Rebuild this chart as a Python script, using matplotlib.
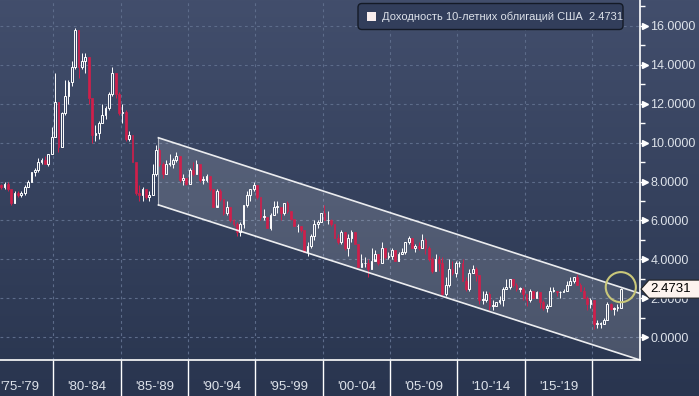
import numpy as np
import pandas as pd
import matplotlib.pyplot as plt
from matplotlib.colors import LinearSegmentedColormap
from matplotlib.patches import FancyBboxPatch, Rectangle, Polygon
from matplotlib.transforms import IdentityTransform

plt.rcParams['font.family'] = ['Liberation Sans', 'DejaVu Sans']

# quarterly candles, US 10y yield, 1976Q1 .. 2022Q1
first_open = 7.8
closes = [7.7, 7.9, 7.6, 6.9,  7.4, 7.3, 7.4, 7.7,  8.0, 8.5, 8.6, 9.0,  9.1, 8.9, 9.4, 10.3,
          12.1, 9.8, 11.5, 12.4,  13.1, 13.9, 15.8, 13.9,  14.2, 14.4, 12.3, 10.4,  10.5, 11.0, 11.4, 11.8,
          12.5, 13.6, 12.5, 11.5,  11.6, 10.2, 10.4, 9.0,  7.4, 7.3, 7.6, 7.2,  7.3, 8.4, 9.6, 8.9,
          8.4, 8.9, 8.9, 9.1,  9.3, 8.1, 8.2, 7.9,  8.6, 8.4, 8.9, 8.1,  8.1, 8.3, 7.6, 6.7,
          7.5, 7.1, 6.4, 6.7,  6.0, 5.8, 5.4, 5.8,  6.8, 7.3, 7.6, 7.8,  7.2, 6.2, 6.2, 5.6,
          6.3, 6.7, 6.7, 6.4,  6.9, 6.5, 6.1, 5.7,  5.7, 5.5, 4.4, 4.7,  5.2, 5.8, 5.9, 6.4,
          6.0, 6.0, 5.8, 5.1,  4.9, 5.4, 4.6, 5.1,  5.4, 4.8, 3.6, 3.8,  3.8, 3.5, 3.9, 4.3,
          3.8, 4.6, 4.1, 4.2,  4.5, 3.9, 4.3, 4.4,  4.9, 5.1, 4.6, 4.7,  4.6, 5.0, 4.6, 4.0,
          3.4, 4.0, 3.8, 2.2,  2.7, 3.5, 3.3, 3.8,  3.8, 2.9, 2.5, 3.3,  3.5, 3.2, 1.9, 1.9,
          2.2, 1.6, 1.6, 1.8,  1.9, 2.5, 2.6, 3.0,  2.7, 2.5, 2.5, 2.2,  1.9, 2.4, 2.0, 2.3,
          1.8, 1.5, 1.6, 2.4,  2.4, 2.3, 2.3, 2.4,  2.7, 2.9, 3.1, 2.7,  2.4, 2.0, 1.7, 1.9,
          0.7, 0.7, 0.7, 0.9,  1.7, 1.45, 1.5, 1.5,  2.4731]
highs = [7.9, 8.0, 8.0, 7.6,  7.5, 7.5, 7.5, 7.8,  8.1, 8.5, 8.7, 9.2,  9.2, 9.3, 9.4, 10.8,
         13.6, 12.1, 11.6, 13.2,  13.2, 14.2, 15.9, 15.8,  14.6, 14.6, 14.4, 12.3,  10.9, 11.1, 12.0, 11.9,
         12.6, 13.9, 13.6, 12.6,  12.0, 11.7, 10.6, 10.4,  9.0, 7.8, 7.7, 7.6,  7.5, 8.9, 9.9, 9.7,
         9.0, 9.1, 9.4, 9.2,  9.5, 9.3, 8.4, 8.2,  8.7, 9.0, 9.1, 8.9,  8.3, 8.4, 8.3, 7.6,
         7.6, 7.6, 7.1, 7.0,  6.7, 6.1, 5.9, 5.9,  6.8, 7.5, 7.6, 8.0,  7.8, 7.2, 6.6, 6.2,
         6.4, 7.0, 7.0, 6.7,  6.9, 7.0, 6.5, 6.1,  5.8, 5.7, 5.5, 4.9,  5.3, 6.0, 6.0, 6.4,
         6.8, 6.5, 6.1, 5.8,  5.3, 5.5, 5.3, 5.3,  5.5, 5.4, 4.8, 4.3,  4.1, 4.0, 4.6, 4.5,
         4.2, 4.9, 4.6, 4.4,  4.6, 4.5, 4.4, 4.6,  4.9, 5.2, 5.1, 4.8,  4.9, 5.3, 5.1, 4.7,
         4.1, 4.3, 4.2, 4.1,  3.1, 4.0, 3.9, 3.9,  3.9, 4.0, 3.1, 3.5,  3.7, 3.6, 3.2, 2.4,
         2.4, 2.3, 1.9, 1.8,  2.1, 2.6, 3.0, 3.0,  3.0, 2.8, 2.6, 2.6,  2.2, 2.5, 2.4, 2.4,
         2.3, 1.9, 1.7, 2.6,  2.6, 2.4, 2.4, 2.5,  2.9, 3.1, 3.1, 3.25,  2.8, 2.6, 2.1, 2.0,
         1.9, 0.9, 0.8, 1.0,  1.8, 1.75, 1.55, 1.7,  2.55]
lows = [7.6, 7.6, 7.5, 6.8,  7.1, 7.2, 7.2, 7.3,  7.7, 8.0, 8.3, 8.5,  8.9, 8.9, 8.8, 9.4,
        10.3, 9.5, 9.8, 11.4,  12.0, 12.9, 13.8, 13.3,  13.8, 13.6, 12.0, 10.0,  10.1, 10.2, 11.0, 11.2,
        11.7, 12.4, 12.3, 11.4,  11.0, 10.1, 10.1, 9.0,  7.3, 7.0, 7.0, 7.1,  7.0, 7.3, 8.3, 8.8,
        8.2, 8.4, 8.8, 8.7,  9.0, 8.0, 7.8, 7.8,  7.9, 8.3, 8.4, 8.0,  7.9, 8.0, 7.5, 6.7,
        6.8, 7.0, 6.3, 6.3,  5.9, 5.7, 5.2, 5.2,  5.6, 6.7, 7.0, 7.5,  7.1, 6.0, 6.0, 5.6,
        5.5, 6.3, 6.4, 6.0,  6.3, 6.4, 6.0, 5.7,  5.4, 5.4, 4.4, 4.2,  4.6, 5.0, 5.6, 5.9,
        6.0, 5.8, 5.7, 5.1,  4.8, 4.8, 4.5, 4.2,  4.9, 4.8, 3.6, 3.6,  3.6, 3.1, 3.5, 4.0,
        3.7, 3.8, 4.0, 4.0,  4.0, 3.9, 4.0, 4.3,  4.3, 4.8, 4.6, 4.4,  4.5, 4.6, 4.3, 3.9,
        3.3, 3.4, 3.4, 2.1,  2.1, 2.6, 3.2, 3.1,  3.6, 2.9, 2.4, 2.4,  3.3, 2.9, 1.7, 1.7,
        1.8, 1.4, 1.4, 1.6,  1.7, 1.6, 2.5, 2.5,  2.6, 2.4, 2.3, 1.9,  1.6, 1.8, 2.0, 2.0,
        1.5, 1.4, 1.3, 1.6,  2.3, 2.1, 2.0, 2.3,  2.4, 2.7, 2.8, 2.7,  2.4, 2.0, 1.4, 1.5,
        0.4, 0.5, 0.5, 0.7,  0.9, 1.4, 1.15, 1.35,  1.5]

period_edges = [1980, 1985, 1990, 1995, 2000, 2005, 2010, 2015, 2020]
period_labels = ["'75-'79", "'80-'84", "'85-'89", "'90-'94", "'95-'99",
                 "'00-'04", "'05-'09", "'10-'14", "'15-'19"]

# trend channel
channel_years = [1987.8, 2023.55]
channel_upper = [10.25, 2.25]
channel_lower = [6.8, -1.17]

legend_text = 'Доходность 10-летних облигаций США  2.4731'
last_label = '2.4731'

red = '#d01f4b'
txt = '#dde2ea'

quarters = pd.period_range('1976Q1', periods=len(closes), freq='Q')
x = np.array([q.year + (q.quarter - 0.5) / 4 for q in quarters])
c = np.array(closes)
o = np.array([first_open] + closes[:-1])
h = np.array(highs)
l = np.array(lows)
up = c >= o
top = np.maximum(o, c)
bot = np.minimum(o, c)

fig = plt.figure(figsize=(6.99, 3.96), dpi=100)

# background gradient
bg = fig.add_axes([0, 0, 1, 1], zorder=-10)
cmap = LinearSegmentedColormap.from_list('bg', ['#29354f', '#424e6c'])
bg.imshow(np.linspace(0, 1, 256).reshape(-1, 1), aspect='auto', cmap=cmap,
          origin='lower', extent=[0, 1, 0, 1])
bg.axis('off')

ax = fig.add_axes([0, 36 / 396, 640 / 699, 360 / 396])
ax.patch.set_alpha(0)
ax.set_xlim(1976.04, 2023.55)
ax.set_ylim(-1.17, 17.33)

# channel
ax.fill_between(channel_years, channel_lower, channel_upper, color='white', alpha=0.15, lw=0, zorder=1)
ax.plot(channel_years, channel_upper, color='white', lw=1.2, alpha=0.9, zorder=4)
ax.plot(channel_years, channel_lower, color='white', lw=1.2, alpha=0.9, zorder=4)
ax.plot([channel_years[0]] * 2, [channel_lower[0], channel_upper[0]], color='white', lw=0.8, alpha=0.6, zorder=4)

# candles
w = 0.13
hgt = np.maximum(top - bot, 0.04)
ax.bar(x[up], hgt[up], bottom=bot[up], width=w, facecolor='none', edgecolor='white', lw=0.7, zorder=3)
ax.bar(x[~up], hgt[~up], bottom=bot[~up], width=w, color=red, edgecolor=red, lw=0.5, zorder=3)
cols = np.where(up, 'white', red)
ax.vlines(x, top, h, colors=cols, lw=0.7, zorder=3)
ax.vlines(x, l, bot, colors=cols, lw=0.7, zorder=3)

# last value circle
ax.scatter([x[-1]], [c[-1] + 0.1], s=470, facecolors='none', edgecolors='#c9c77a', lw=1.5, zorder=6, clip_on=False)

# axes styling
for s in ['left', 'top']:
    ax.spines[s].set_visible(False)
for s in ['right', 'bottom']:
    ax.spines[s].set_color('white')
    ax.spines[s].set_linewidth(1.2)

ax.yaxis.tick_right()
ax.set_yticks(range(0, 17, 2))
ax.set_yticks(range(1, 18, 2), minor=True)
ax.set_yticklabels(['%.4f' % v for v in range(0, 17, 2)])
ax.tick_params(axis='y', which='both', length=3.6, width=1, color='white')
ax.tick_params(axis='y', which='major', labelcolor=txt, labelsize=9, pad=3.8)
ax.plot([1.0085] * 9, range(0, 17, 2), ls='none', marker='>', ms=4.5, color='white',
        transform=ax.get_yaxis_transform(), clip_on=False)

ax.set_xticks(period_edges)
ax.set_xticks([e - 2.5 for e in period_edges], minor=True)
ax.set_xticklabels([''] * len(period_edges))
ax.set_xticklabels(period_labels, minor=True)
ax.tick_params(axis='x', which='major', length=26, width=1, color='white', direction='out')
ax.tick_params(axis='x', which='minor', length=0, labelcolor=txt, labelsize=9.5, pad=15)

ax.grid(which='major', color='#5d6c8a', ls=(0, (2.5, 3)), lw=0.8)
ax.set_axisbelow(True)

# legend box
fig.add_artist(FancyBboxPatch((358, 396 - 29.5), 265, 26, boxstyle='round,pad=0,rounding_size=4',
                              facecolor='#323e5b', edgecolor='#141a26', lw=1, transform=IdentityTransform()))
fig.add_artist(Rectangle((367, 396 - 21), 9, 9, facecolor='#f8eeee', edgecolor='none',
                         transform=IdentityTransform()))
fig.text(381.5 / 699, 1 - 16.5 / 396, legend_text, color=txt, fontsize=8, va='center', ha='left')

# last price tag
yp = ax.transData.transform((0, c[-1]))[1]
fig.add_artist(Polygon([(641, yp), (649, yp + 9), (702, yp + 9), (702, yp - 9), (649, yp - 9)],
                       closed=True, facecolor='#fdf3ee', edgecolor='#222222', lw=0.8,
                       transform=IdentityTransform()))
fig.text(650 / 699, yp / 396, last_label, color='black', fontsize=9.5, va='center', ha='left')

fig.savefig('out.png', dpi=100)
